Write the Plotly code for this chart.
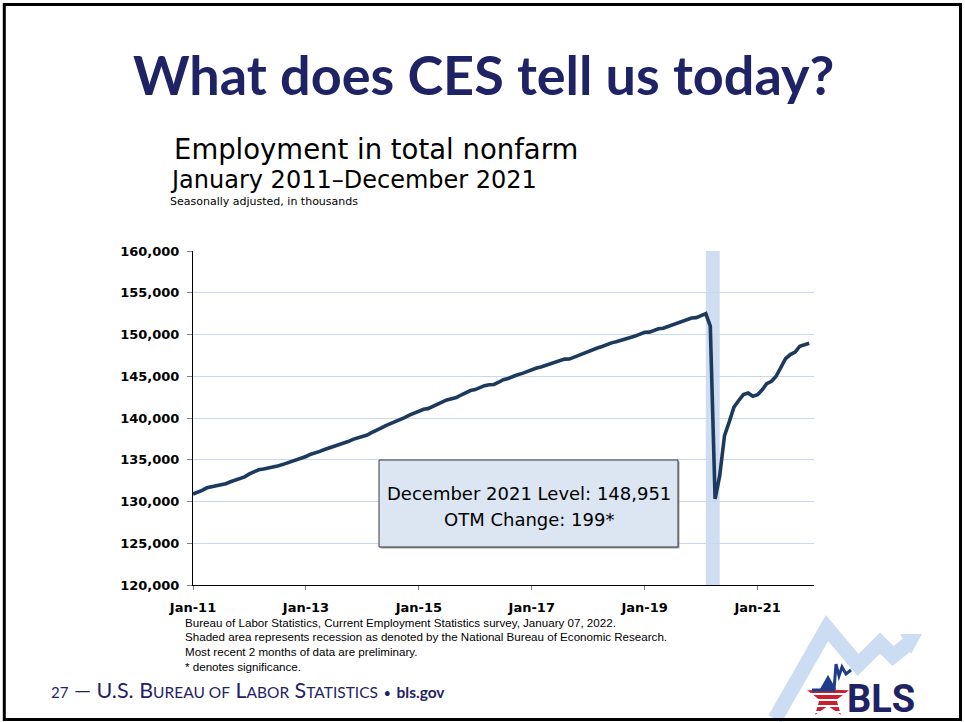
import plotly.graph_objects as go
import pandas as pd
import math

# ---------------- data (thousands, seasonally adjusted) ----------------
emp_2011 = [130900, 131100, 131330, 131640, 131740, 131950, 132020, 132130, 132360, 132560, 132690, 132950]
emp_2012 = [133300, 133560, 133800, 133890, 134000, 134080, 134240, 134420, 134620, 134790, 134960, 135200]
emp_2013 = [135390, 135670, 135810, 136000, 136230, 136420, 136560, 136770, 136960, 137180, 137440, 137600]
emp_2014 = [137790, 137960, 138240, 138570, 138800, 139080, 139310, 139500, 139790, 140050, 140340, 140600]
emp_2015 = [140790, 141050, 141120, 141370, 141700, 141880, 142160, 142310, 142450, 142750, 142980, 143290]
emp_2016 = [143400, 143640, 143870, 143990, 144020, 144280, 144590, 144740, 144990, 145170, 145340, 145550]
emp_2017 = [145810, 145980, 146100, 146310, 146450, 146690, 146880, 147050, 147060, 147290, 147530, 147720]
emp_2018 = [147900, 148230, 148380, 148560, 148810, 149000, 149130, 149330, 149440, 149640, 149810, 150000]
emp_2019 = [150270, 150280, 150480, 150680, 150750, 150950, 151130, 151330, 151540, 151720, 151970, 152020]
emp_2020 = [152230, 152500, 151000, 130300, 133100, 137900, 139500, 141300, 142100, 142800, 143000, 142600]
emp_2021 = [142800, 143400, 144100, 144400, 145000, 146100, 147100, 147600, 147900, 148600, 148752, 148951]

employment = (emp_2011 + emp_2012 + emp_2013 + emp_2014 + emp_2015 + emp_2016
              + emp_2017 + emp_2018 + emp_2019 + emp_2020 + emp_2021)
months = pd.date_range("2011-01-01", periods=len(employment), freq="MS")

x_tick_dates = ["2011-01-01", "2013-01-01", "2015-01-01", "2017-01-01", "2019-01-01", "2021-01-01"]
x_tick_labels = ["Jan-11", "Jan-13", "Jan-15", "Jan-17", "Jan-19", "Jan-21"]
y_ticks = [120000, 125000, 130000, 135000, 140000, 145000, 150000, 155000, 160000]
recession_start, recession_end = "2020-02-01", "2020-05-01"

level = employment[-1]
otm_change = employment[-1] - employment[-2]

footnotes = [
    "Bureau of Labor Statistics, Current Employment Statistics survey, January 07, 2022.",
    "Shaded area represents recession as denoted by the National Bureau of Economic Research.",
    "Most recent 2 months of data are preliminary.",
    "* denotes significance.",
]

# ---------------- geometry helpers ----------------
W, H = 965, 722
L, R, T, B = 193, 814, 251, 585


def px(x):
    return (x - L) / (R - L)


def py(y):
    return (B - y) / (B - T)


def path(points, close=False):
    s = "M " + " L ".join(f"{px(x):.5f},{py(y):.5f}" for x, y in points)
    return s + (" Z" if close else "")


NAVY = "#1F2366"

fig = go.Figure()
fig.add_trace(go.Scatter(
    x=months, y=employment, mode="lines",
    line=dict(color="#1B3A5E", width=3.6),
    hoverinfo="skip",
))

shapes = []
# recession shading
shapes.append(dict(type="rect", xref="x", yref="paper", x0=recession_start, x1=recession_end,
                   y0=0, y1=1, fillcolor="#C9D9EE", opacity=0.9, line=dict(width=0), layer="below"))

# annotation box (shadow + box)
shapes.append(dict(type="rect", xref="paper", yref="paper", x0=px(380.5), x1=px(679.5), y0=py(548.5), y1=py(461.5),
                   fillcolor="#A0A0A0", line=dict(width=0)))
shapes.append(dict(type="rect", xref="paper", yref="paper", x0=px(379), x1=px(678), y0=py(547), y1=py(460),
                   fillcolor="#DCE6F2", line=dict(color="#3A3A3A", width=1)))

# BLS logo: light-blue zigzag arrow
band = [(775, 719), (827, 628), (858, 665), (880, 643), (893, 656), (908, 644)]
shapes.append(dict(type="path", xref="paper", yref="paper", path=path(band),
                   line=dict(color="#CCDDF3", width=15), fillcolor="rgba(0,0,0,0)"))
shapes.append(dict(type="path", xref="paper", yref="paper",
                   path=path([(900, 634), (922, 634), (911, 654)], close=True),
                   fillcolor="#CCDDF3", line=dict(width=0)))

# star (red with white stripes)
cx, cy, ro, ri = 828, 697, 22, 9
star_pts = []
for k in range(10):
    ang = math.radians(-90 + 36 * k)
    r_ = ro if k % 2 == 0 else ri
    star_pts.append((cx + r_ * math.cos(ang), cy + r_ * math.sin(ang)))
shapes.append(dict(type="path", xref="paper", yref="paper", path=path(star_pts, close=True),
                   fillcolor="#C8202F", line=dict(width=0)))
for sy in (694, 700, 706, 712):
    shapes.append(dict(type="line", xref="paper", yref="paper", x0=px(804), x1=px(852),
                       y0=py(sy), y1=py(sy), line=dict(color="white", width=1.8)))
# blue upper part / seismograph
shapes.append(dict(type="path", xref="paper", yref="paper",
                   path=path([(820, 689), (828, 675), (836, 689)], close=True),
                   fillcolor="#1F3C88", line=dict(width=0)))
shapes.append(dict(type="path", xref="paper", yref="paper",
                   path=path([(812, 690), (834, 690), (836, 664), (839, 676), (842, 667), (846, 674), (851, 670)]),
                   line=dict(color="#1F3C88", width=3), fillcolor="rgba(0,0,0,0)"))

# slide frame
shapes.append(dict(type="rect", xref="paper", yref="paper", x0=px(4.3), x1=px(960.5), y0=py(719.5), y1=py(4.5),
                   line=dict(color="black", width=3), fillcolor="rgba(0,0,0,0)"))

ann = []
ann.append(dict(text="<b>What does CES tell us today?</b>", x=px(483.5), y=py(74), xanchor="center", yanchor="middle",
                font=dict(family="Lato", size=54, color=NAVY)))
ann.append(dict(text="Employment in total nonfarm", x=px(172), y=py(149), xanchor="left", yanchor="middle",
                font=dict(family="DejaVu Sans", size=27.5, color="black")))
ann.append(dict(text="January 2011–December 2021", x=px(168), y=py(180), xanchor="left", yanchor="middle",
                font=dict(family="DejaVu Sans", size=24, color="black")))
ann.append(dict(text="Seasonally adjusted, in thousands", x=px(168), y=py(201), xanchor="left", yanchor="middle",
                font=dict(family="DejaVu Sans", size=11, color="black")))
ann.append(dict(text=f"December 2021 Level: {level:,}", x=px(528.5), y=py(493), xanchor="center", yanchor="middle",
                font=dict(family="DejaVu Sans", size=18, color="black")))
ann.append(dict(text=f"OTM Change: {otm_change:,}*", x=px(528.5), y=py(519), xanchor="center", yanchor="middle",
                font=dict(family="DejaVu Sans", size=18, color="black")))
for i, t in enumerate(footnotes):
    ann.append(dict(text=t, x=px(183), y=py(622 + 14.7 * i), xanchor="left", yanchor="middle",
                    font=dict(family="Liberation Sans", size=11.6, color="black")))
sc = 'style="font-size:15.5px"'
footer = (f'<span style="font-size:15px">27</span> — U.S. B<span {sc}>UREAU OF</span> '
          f'L<span {sc}>ABOR</span> S<span {sc}>TATISTICS</span> '
          f'<span style="font-size:13px">•</span> '
          f'<span style="font-size:15.5px"><b>bls.gov</b></span>')
ann.append(dict(text=footer, x=px(49), y=py(690), xanchor="left", yanchor="middle",
                font=dict(family="Lato", size=21.5, color=NAVY)))
ann.append(dict(text="<b>BLS</b>", x=px(881), y=py(699), xanchor="center", yanchor="middle",
                font=dict(family="Roboto", size=38, color=NAVY)))

for a in ann:
    a.update(xref="paper", yref="paper", showarrow=False)

fig.update_layout(
    width=W, height=H, autosize=False,
    margin=dict(l=L, r=W - R, t=T, b=H - B, pad=0),
    paper_bgcolor="white", plot_bgcolor="white",
    showlegend=False,
    shapes=shapes, annotations=ann,
    xaxis=dict(type="date", range=["2011-01-01", "2022-01-01"],
               tickvals=x_tick_dates, ticktext=x_tick_labels,
               ticks="outside", ticklen=4, tickcolor="#808080",
               showgrid=False, zeroline=False,
               showline=True, linecolor="black", linewidth=1,
               ticklabelstandoff=6,
               tickfont=dict(family="DejaVu Sans", size=13, color="black", weight="bold")),
    yaxis=dict(range=[120000, 160000], tickvals=y_ticks, tickformat=",d",
               ticks="outside", ticklen=5, tickcolor="#808080",
               showgrid=True, gridcolor="#C6D9F1", gridwidth=1,
               zeroline=False, showline=True, linecolor="black", linewidth=1,
               ticklabelstandoff=5,
               tickfont=dict(family="DejaVu Sans", size=13, color="black", weight="bold")),
)

fig.write_html("out.html", config={"displayModeBar": False},
               post_script="document.body.style.margin='0';")
